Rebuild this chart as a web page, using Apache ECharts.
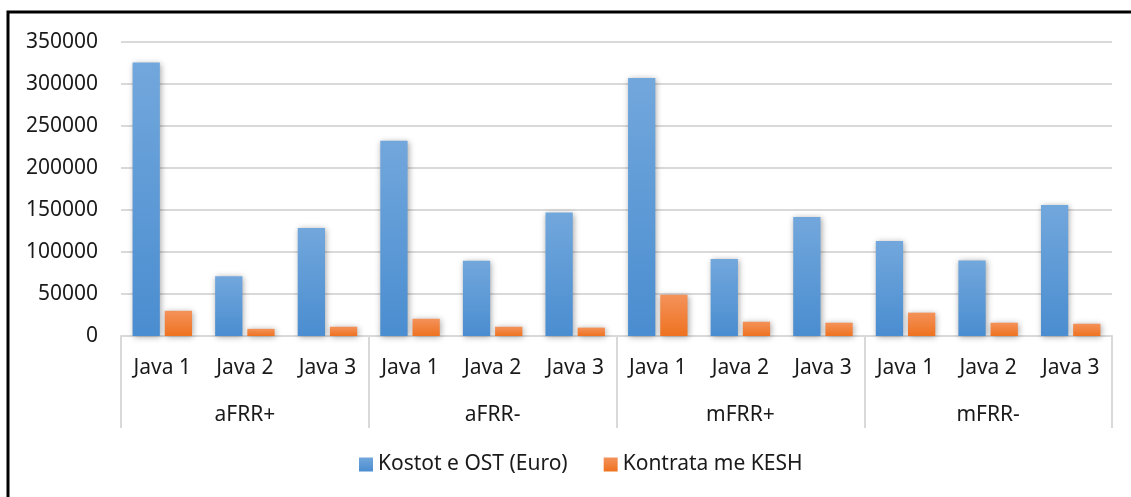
<!DOCTYPE html>
<html>
<head>
<meta charset="utf-8">
<script src="https://cdn.jsdelivr.net/npm/echarts@6/dist/echarts.min.js"></script>
<style>
  html, body { margin: 0; padding: 0; background: #fff; }
  #chart { width: 1131px; height: 497px; }
</style>
</head>
<body>
<div id="chart"></div>
<script>
var categories = ['Java 1', 'Java 2', 'Java 3', 'Java 1', 'Java 2', 'Java 3',
                  'Java 1', 'Java 2', 'Java 3', 'Java 1', 'Java 2', 'Java 3'];
var groups = ['aFRR+', 'aFRR-', 'mFRR+', 'mFRR-'];
var kostot = [325500, 71000, 128500, 232500, 89500, 147000, 307000, 91800, 141800, 113000, 90000, 156000];
var kontrata = [30000, 8500, 11000, 20500, 11000, 10000, 49000, 17000, 15800, 27800, 15800, 14600];
var seriesNames = ['Kostot e OST (Euro)', 'Kontrata me KESH'];

var FONT = 'Noto Sans';
var chart = echarts.init(document.getElementById('chart'));

function grad(top, bottom) {
  return new echarts.graphic.LinearGradient(0, 0, 0, 1, [
    { offset: 0, color: top },
    { offset: 1, color: bottom }
  ]);
}

var shadow = {
  shadowBlur: 6,
  shadowColor: 'rgba(0,0,0,0.35)',
  shadowOffsetX: 1,
  shadowOffsetY: 1
};

var option = {
  backgroundColor: '#ffffff',
  animation: false,
  textStyle: { fontFamily: FONT },
  grid: { left: 121, right: 19, top: 42, bottom: 161 },
  legend: {
    bottom: 17,
    left: 354,
    itemWidth: 14,
    itemHeight: 14,
    itemGap: 36,
    icon: 'rect',
    textStyle: { fontFamily: FONT, fontSize: 21, color: '#1a1a1a' },
    data: seriesNames
  },
  xAxis: [
    {
      type: 'category',
      data: categories,
      position: 'bottom',
      axisLine: { show: true, lineStyle: { color: '#d9d9d9', width: 2 } },
      axisTick: { show: false },
      axisLabel: { margin: 22, fontFamily: FONT, fontSize: 21, color: '#1a1a1a', interval: 0 }
    },
    {
      type: 'category',
      data: groups,
      position: 'bottom',
      axisLine: { show: false },
      axisTick: { show: true, length: 92, lineStyle: { color: '#d9d9d9', width: 2 } },
      axisLabel: { margin: 69, fontFamily: FONT, fontSize: 21, color: '#1a1a1a' }
    }
  ],
  yAxis: {
    type: 'value',
    min: 0,
    max: 350000,
    interval: 50000,
    axisLine: { show: false },
    axisTick: { show: false },
    splitLine: { lineStyle: { color: '#d9d9d9', width: 2 } },
    axisLabel: {
      margin: 23, fontFamily: FONT, fontSize: 21, color: '#1a1a1a',
      formatter: function (v) { return String(v); }
    }
  },
  series: [
    {
      name: seriesNames[0],
      type: 'bar',
      xAxisIndex: 0,
      data: kostot,
      barCategoryGap: '28%',
      barGap: '18%',
      itemStyle: Object.assign({ color: grad('#72a7dc', '#4a8dd0') }, shadow)
    },
    {
      name: seriesNames[1],
      type: 'bar',
      xAxisIndex: 0,
      data: kontrata,
      barCategoryGap: '28%',
      barGap: '18%',
      itemStyle: Object.assign({ color: grad('#f4925a', '#ee7220') }, shadow)
    }
  ],
  graphic: [
    {
      type: 'rect',
      shape: { x: 8, y: 12, width: 1200, height: 600 },
      style: { fill: 'none', stroke: '#000', lineWidth: 3 },
      silent: true
    }
  ]
};

chart.setOption(option);
</script>
</body>
</html>
